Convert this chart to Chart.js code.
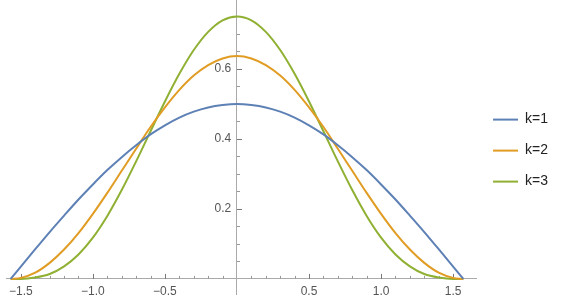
<!DOCTYPE html>
<html>
<head>
<meta charset="utf-8">
<script src="https://cdn.jsdelivr.net/npm/chart.js@4.4.1/dist/chart.umd.min.js"></script>
<style>
  html, body { margin: 0; padding: 0; background: #fff; }
  #wrap { width: 563px; height: 300px; position: relative; }
</style>
</head>
<body>
<div id="wrap"><canvas id="chart"></canvas></div>
<script>
// x positions (curves run from -pi/2 to pi/2)
const xValues = [-1.571, -1.5, -1.4, -1.3, -1.2, -1.1, -1.0, -0.9, -0.8, -0.7, -0.6, -0.5, -0.4, -0.3, -0.2, -0.1,
  0, 0.1, 0.2, 0.3, 0.4, 0.5, 0.6, 0.7, 0.8, 0.9, 1.0, 1.1, 1.2, 1.3, 1.4, 1.5, 1.571];

const k1Values = [0, 0.035, 0.085, 0.134, 0.181, 0.227, 0.270, 0.311, 0.348, 0.382, 0.413, 0.439, 0.461, 0.478, 0.490, 0.497,
  0.500, 0.497, 0.490, 0.478, 0.461, 0.439, 0.413, 0.382, 0.348, 0.311, 0.270, 0.227, 0.181, 0.134, 0.085, 0.035, 0];
const k2Values = [0, 0.003, 0.018, 0.046, 0.084, 0.131, 0.186, 0.246, 0.309, 0.372, 0.434, 0.490, 0.540, 0.581, 0.611, 0.630,
  0.637, 0.630, 0.611, 0.581, 0.540, 0.490, 0.434, 0.372, 0.309, 0.246, 0.186, 0.131, 0.084, 0.046, 0.018, 0.003, 0];
const k3Values = [0, 0.000, 0.004, 0.014, 0.036, 0.070, 0.118, 0.180, 0.254, 0.336, 0.422, 0.507, 0.586, 0.654, 0.706, 0.739,
  0.750, 0.739, 0.706, 0.654, 0.586, 0.507, 0.422, 0.336, 0.254, 0.180, 0.118, 0.070, 0.036, 0.014, 0.004, 0.000, 0];

const seriesLabels = ["k=1", "k=2", "k=3"];
const xTickLabels = [-1.5, -1.0, -0.5, 0.5, 1.0, 1.5];
const yTickLabels = [0.2, 0.4, 0.6];

const colors = ["#5e81b5", "#e19c24", "#8fb032"];

const toPoints = (ys) => xValues.map((x, i) => ({ x, y: ys[i] }));

const near = (a, b) => Math.abs(a - b) < 1e-6;

// axes sit inside the plot, so they should not take any room in the layout
const noRoom = (s) => {
  if (s.isHorizontal()) s.height = 0; else s.width = 0;
  s.paddingLeft = s.paddingRight = s.paddingTop = s.paddingBottom = 0;
};

// Mathematica-style inward ticks: short ticks inside the frame, longer at labelled values
const axisTicks = {
  id: "axisTicks",
  beforeDatasetsDraw(chart) {
    const { ctx, scales: { x, y } } = chart;
    const x0 = x.getPixelForValue(0);
    const y0 = y.getPixelForValue(0);
    ctx.save();
    ctx.lineWidth = 1;
    x.ticks.forEach(t => {
      const v = Math.round(t.value * 10);
      if (!near(t.value * 10, v) || v === 0) return;
      const major = v % 5 === 0;
      const px = Math.round(x.getPixelForValue(t.value)) + 0.5;
      ctx.strokeStyle = major ? "#777" : "#999";
      ctx.beginPath();
      ctx.moveTo(px, y0);
      ctx.lineTo(px, y0 - (major ? 5 : 3));
      ctx.stroke();
    });
    y.ticks.forEach(t => {
      const v = Math.round(t.value * 20);
      if (!near(t.value * 20, v) || v === 0) return;
      const major = v % 4 === 0;
      const py = Math.round(y.getPixelForValue(t.value)) + 0.5;
      ctx.strokeStyle = major ? "#777" : "#999";
      ctx.beginPath();
      ctx.moveTo(x0, py);
      ctx.lineTo(x0 + (major ? 5 : 3), py);
      ctx.stroke();
    });
    ctx.restore();
  }
};

new Chart(document.getElementById("chart"), {
  type: "line",
  data: {
    datasets: [k1Values, k2Values, k3Values].map((vals, i) => ({
      label: seriesLabels[i],
      data: toPoints(vals),
      borderColor: colors[i],
      backgroundColor: colors[i],
      borderWidth: 2,
      pointRadius: 0,
      cubicInterpolationMode: "monotone",
      fill: false
    }))
  },
  options: {
    responsive: true,
    maintainAspectRatio: false,
    animation: false,
    layout: { padding: { left: 6, top: 0, bottom: 6, right: 5 } },
    scales: {
      x: {
        type: "linear",
        min: -1.603,
        max: 1.659,
        position: { y: 0 },
        afterFit: noRoom,
        grid: { display: false },
        border: { color: "#aaa", width: 1 },
        ticks: {
          stepSize: 0.1,
          autoSkip: false,
          maxRotation: 0,
          padding: -2,
          color: "#555",
          font: { family: "Liberation Sans, Arial, sans-serif", size: 12 },
          callback: (v) => xTickLabels.some(l => near(l, v)) ? v.toFixed(1).replace("-", "\u2212") : ""
        }
      },
      y: {
        type: "linear",
        min: -0.043,
        max: 0.797,
        position: { x: 0 },
        afterFit: noRoom,
        grid: { display: false },
        border: { color: "#aaa", width: 1 },
        ticks: {
          stepSize: 0.05,
          autoSkip: false,
          color: "#555",
          font: { family: "Liberation Sans, Arial, sans-serif", size: 12 },
          // trailing space keeps the right-aligned label clear of the axis line
          callback: (v) => yTickLabels.some(l => near(l, v)) ? v.toFixed(1) + " \u2009" : ""
        }
      }
    },
    plugins: {
      legend: {
        position: "right",
        // empty title only nudges the item column down a little
        title: { display: true, text: " ", font: { size: 1 }, padding: { top: 3, bottom: 3 } },
        labels: {
          usePointStyle: true,
          pointStyle: "line",
          pointStyleWidth: 25,
          padding: 17,
          color: "#222",
          font: { family: "Liberation Sans, Arial, sans-serif", size: 14 }
        }
      },
      tooltip: { enabled: false }
    }
  },
  plugins: [axisTicks]
});
</script>
</body>
</html>
